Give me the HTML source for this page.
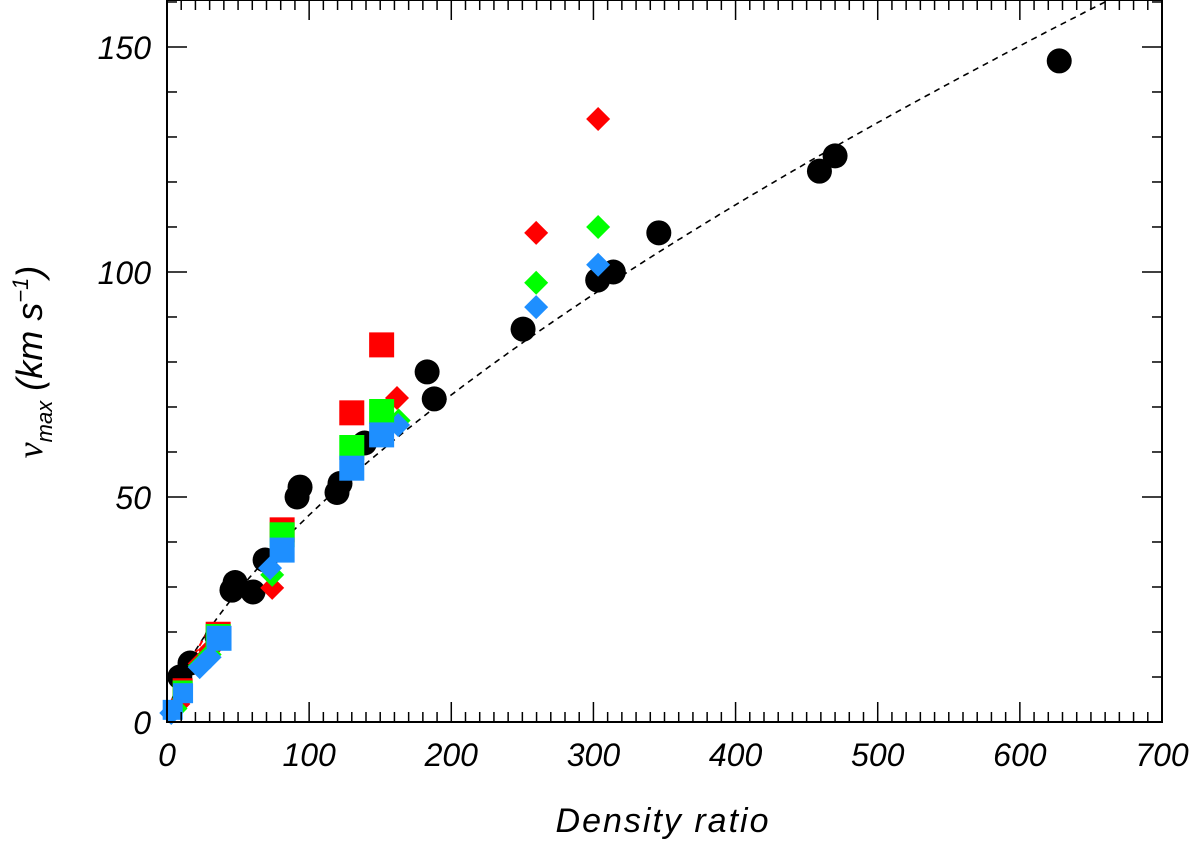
<!DOCTYPE html>
<html><head><meta charset="utf-8"><style>
html,body{margin:0;padding:0;background:#fff;}
svg{display:block;}
text{font-family:"Liberation Sans",sans-serif;font-style:italic;fill:#000;}
</style></head><body>
<svg id="chart" width="1200" height="843" viewBox="0 0 1200 843" xmlns="http://www.w3.org/2000/svg">
<g id="marks"></g>
<g id="axes"></g>
</svg>
<script>
const xTicks=[0,100,200,300,400,500,600,700];
const yTicks=[0,50,100,150];
const circleX=[627.7,470,459,346,314,303,250.5,188,183,139,121.7,119.6,93.6,91.5,69,47.9,45.7,60.5,35.2,16.2,9];
const circleY=[146.9,125.8,122.4,108.7,100,98.2,87.3,71.8,77.8,62,53,51,52.2,50,36,31,29.3,28.9,18.9,13.1,10];
const redSqX=[151,130,81,36,11];
const redSqY=[83.8,68.7,42.7,19.5,7.5];
const greenSqX=[151,130,81,36,11];
const greenSqY=[69,61,41.6,19,7];
const blueSqX=[151,130,81,36.6,11.3,4];
const blueSqY=[63.8,56.4,38.2,18.6,6.4,2.7];
const redDiX=[303.3,259.7,161.8,74,30,23,8];
const redDiY=[134,108.7,72,29.8,16,13,4];
const greenDiX=[303.3,259.7,163,74,30,23,6];
const greenDiY=[110,97.6,67,32.7,15,12.5,3];
const blueDiX=[303.3,259.7,162.6,72.5,30,23,3];
const blueDiY=[101.6,92.2,66,34.2,14.4,12.2,2];
const fitA=2.19, fitB=0.661;

const NS="http://www.w3.org/2000/svg";
const X0=167,X1=1162,Y0=722,Y1=0;
const xMax=700,yMax=160.44;
const sx=v=>X0+v*(X1-X0)/xMax;
const sy=v=>Y0-v*(Y0-Y1)/yMax;
const marks=document.getElementById('marks');
const axes=document.getElementById('axes');
function mk(tag,attrs,parent){const e=document.createElementNS(NS,tag);for(const k in attrs)e.setAttribute(k,attrs[k]);parent.appendChild(e);return e;}

// fit line
let d='';
for(let v=0;v<=700;v+=2){const y=fitA*Math.pow(v,fitB);d+=(v?'L':'M')+sx(v).toFixed(1)+','+sy(y).toFixed(1);}
const fit=mk('path',{d:d,fill:'none',stroke:'#000','stroke-width':1.6,'stroke-dasharray':'6,5'},marks);


const seg=mk('line',{x1:sx(16),y1:sy(13),x2:sx(30),y2:sy(21),stroke:'#ff0000','stroke-width':2,'stroke-dasharray':'6,4'},marks);



function squares(xs,ys,col,name){xs.forEach((x,i)=>{const s=(x<20)?20:25;const r=mk('rect',{x:sx(x)-s/2,y:sy(ys[i])-s/2,width:s,height:s,fill:col},marks);

});}
function diamonds(xs,ys,col,name){xs.forEach((x,i)=>{const cx=sx(x),cy=sy(ys[i]),h=12;const p=mk('polygon',{points:`${cx},${cy-h} ${cx+h},${cy} ${cx},${cy+h} ${cx-h},${cy}`,fill:col},marks);

});}
circleX.forEach((x,i)=>{const c=mk('circle',{cx:sx(x),cy:sy(circleY[i]),r:12.5,fill:'#000'},marks);

});
diamonds(redDiX,redDiY,'#ff0000','red-diamond-point');
diamonds(greenDiX,greenDiY,'#00ff00','green-diamond-point');
diamonds(blueDiX,blueDiY,'#1e8fff','blue-diamond-point');
squares(redSqX,redSqY,'#ff0000','red-square-point');
squares(greenSqX,greenSqY,'#00ff00','green-square-point');
squares(blueSqX,blueSqY,'#1e8fff','blue-square-point');

// frame
const fr=mk('rect',{x:X0,y:Y1,width:X1-X0,height:Y0-Y1,fill:'none',stroke:'#000','stroke-width':2},axes);


for(let v=0;v<=700;v+=10){const maj=v%100===0;const L=maj?20:10;const x=sx(v);
mk('line',{x1:x,y1:Y0,x2:x,y2:Y0-L,stroke:'#000','stroke-width':1.5},axes);
mk('line',{x1:x,y1:Y1,x2:x,y2:Y1+L,stroke:'#000','stroke-width':1.5},axes);}
for(let v=0;v<=160;v+=10){const maj=v%50===0;const L=maj?20:10;const y=sy(v);
mk('line',{x1:X0,y1:y,x2:X0+L,y2:y,stroke:'#000','stroke-width':1.5},axes);
mk('line',{x1:X1,y1:y,x2:X1-L,y2:y,stroke:'#000','stroke-width':1.5},axes);}
xTicks.forEach(v=>{const t=mk('text',{x:sx(v),y:Y0+44,'text-anchor':'middle','font-size':32},axes);t.textContent=v;

});
yTicks.forEach(v=>{const t=mk('text',{x:X0-16,y:sy(v)+12,'text-anchor':'end','font-size':32},axes);t.textContent=v;

});
const xt=mk('text',{x:663,y:832,'text-anchor':'middle','font-size':34,'letter-spacing':'2'},axes);xt.textContent='Density ratio';


const yt=mk('text',{x:0,y:0,'text-anchor':'middle','font-size':36,transform:'translate(42,362) rotate(-90)'},axes);
yt.innerHTML='<tspan font-family="Liberation Serif">v</tspan><tspan font-size="22" dy="10">max</tspan><tspan dy="-10"> (km s</tspan><tspan font-size="22" dy="-14">−1</tspan><tspan dy="14">)</tspan>';


</script>
</body></html>
